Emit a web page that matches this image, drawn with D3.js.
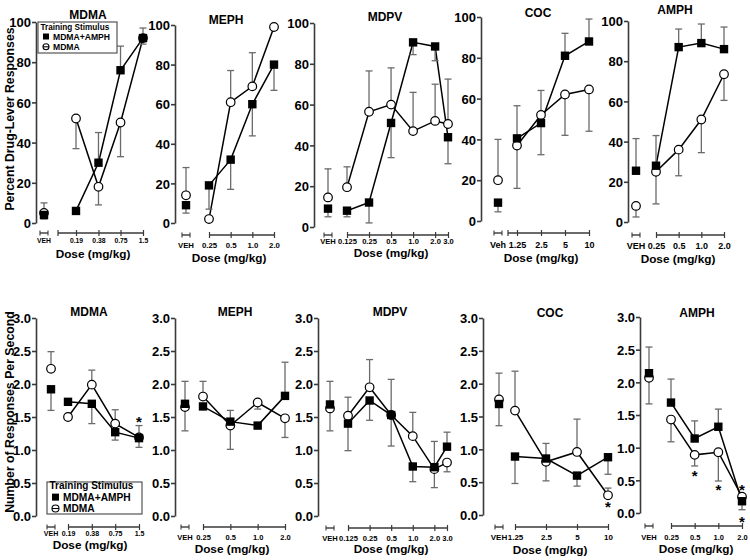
<!DOCTYPE html>
<html><head><meta charset="utf-8">
<script src="https://cdn.jsdelivr.net/npm/d3@7"></script>
<style>
body{margin:0;background:#fff}
svg{display:block;font-family:"Liberation Sans",Arial,sans-serif;font-weight:bold}
</style>
</head><body><svg id="c" width="750" height="560"></svg>
<script>
// ---------------- DATA ----------------
const drugs = ["MDMA", "MEPH", "MDPV", "COC", "AMPH"];
const seriesNames = ["MDMA+AMPH", "MDMA"];

const dosesMDMA = [0.19, 0.38, 0.75, 1.5];
const dosesMEPH = [0.25, 0.5, 1.0, 2.0];
const dosesMDPV = [0.125, 0.25, 0.5, 1.0, 2.0, 3.0];
const dosesCOC  = [1.25, 2.5, 5, 10];
const dosesAMPH = [0.25, 0.5, 1.0, 2.0];

const doseLabelsMDMA = ["0.19", "0.38", "0.75", "1.5"];
const doseLabelsMEPH = ["0.25", "0.5", "1.0", "2.0"];
const doseLabelsMDPV = ["0.125", "0.25", "0.5", "1.0", "2.0", "3.0"];
const doseLabelsCOC  = ["1.25", "2.5", "5", "10"];
const doseLabelsAMPH = ["0.25", "0.5", "1.0", "2.0"];

const vehLabelsTop    = ["VEH", "VEH", "VEH", "Veh", "VEH"];
const vehLabelsBottom = ["VEH", "VEH", "VEH", "VEH", "VEH"];

const pctTicks  = [0, 20, 40, 60, 80, 100];
const rateTicks = [0, 0.5, 1.0, 1.5, 2.0, 2.5, 3.0];

// Percent drug-lever responses (first value = vehicle). Err: signed one-sided SEM.
const pctComboMDMA = [4, 6, 30, 76, 92];      const pctComboErrMDMA = [-2, -1, 15, 12, 5];
const pctMdmaMDMA  = [5, 52, 18, 50, 92];     const pctMdmaErrMDMA  = [5, -15, -9, -17, -3];
const pctComboMEPH = [9, 19, 32, 60, 80];     const pctComboErrMEPH = [-4, -12, -15, -16, -13];
const pctMdmaMEPH  = [14, 2, 61, 69, 99];     const pctMdmaErrMEPH  = [14, 0, 16, 17, 0];
const pctComboMDPV = [9, 8, 12, 51, 90.5, 88.5, 44]; const pctComboErrMDPV = [-4, -3, -10, -17, -6, -7, -13];
const pctMdmaMDPV  = [14.5, 19.5, 56.5, 60, 47, 52, 50.5]; const pctMdmaErrMDPV = [14, 10, 20, 18, 19, 18, 22];
const pctComboCOC  = [9, 40.5, 48, 81, 88];   const pctComboErrCOC  = [-4.5, 16, -15.5, 11, 11];
const pctMdmaCOC   = [20, 37, 52, 62, 64.5];  const pctMdmaErrCOC   = [20, -21, 12, -20, -20.5];
const pctComboAMPH = [25.5, 28, 87, 89, 86];  const pctComboErrAMPH = [16, 15, 9, 9.5, 11];
const pctMdmaAMPH  = [8, 25, 36, 51, 73.5];   const pctMdmaErrAMPH  = [-5.5, -16, -13, -16.5, -13];

// Responses per second (first value = vehicle)
const rateComboMDMA = [1.92, 1.73, 1.70, 1.27, 1.18]; const rateComboErrMDMA = [-0.32, 0, -0.3, -0.12, -0.14];
const rateMdmaMDMA  = [2.23, 1.50, 1.99, 1.40, 1.19]; const rateMdmaErrMDMA  = [0.26, 0, 0.22, 0.21, 0.18];
const rateComboMEPH = [1.70, 1.66, 1.43, 1.37, 1.82]; const rateComboErrMEPH = [0.34, 0, 0.17, -0.04, 0.51];
const rateMdmaMEPH  = [1.65, 1.81, 1.37, 1.72, 1.48]; const rateMdmaErrMEPH  = [-0.36, 0.23, -0.36, -0.1, -0.29];
const rateComboMDPV = [1.69, 1.40, 1.75, 1.53, 0.75, 0.74, 1.05]; const rateComboErrMDPV = [0.35, -0.41, -0.3, 0.54, -0.23, 0.39, 0.22];
const rateMdmaMDPV  = [1.63, 1.52, 1.95, 1.53, 1.21, 0.71, 0.81]; const rateMdmaErrMDPV  = [-0.34, 0.28, 0.42, -0.47, 0.36, -0.28, -0.14];
const rateComboCOC  = [1.69, 0.89, 0.86, 0.60, 0.88]; const rateComboErrCOC  = [-0.33, -0.41, 0.23, -0.16, -0.26];
const rateMdmaCOC   = [1.76, 1.59, 0.81, 0.96, 0.30]; const rateMdmaErrCOC   = [0.40, 0.60, -0.29, 0.50, 0.11];
const rateComboAMPH = [2.14, 1.69, 1.14, 1.32, 0.18]; const rateComboErrAMPH = [0.40, 0.36, 0.27, 0.27, -0.13];
const rateMdmaAMPH  = [2.07, 1.43, 0.89, 0.93, 0.25]; const rateMdmaErrAMPH  = [-0.40, -0.34, -0.17, -0.44, 0.02];

// Significance asterisks (bottom row)
const starDrug = ["MDMA", "COC", "AMPH", "AMPH", "AMPH", "AMPH"];
const starDose = [1.5, 10, 0.5, 1.0, 2.0, 2.0];
const starRate = [1.47, 0.17, 0.62, 0.40, 0.40, -0.08];

// ---------------- LAYOUT ----------------
const topLayout = [
  {ax:36,  yMax:22, y0:223, veh:44,  d0:76,  d1:143, ls:58,  axisY:233, lblY:243, lblSize:6.8, titleX:88,  titleY:19, doseX:93,  doseY:257.5},
  {ax:175, yMax:25, y0:223, veh:186, d0:209, d1:274, ls:209, axisY:235, lblY:248, lblSize:7.8, titleX:226, titleY:24, doseX:229, doseY:262},
  {ax:314, yMax:23, y0:227, veh:328, d0:347, d1:448, ls:347, axisY:235, lblY:244, lblSize:7.6, titleX:385, titleY:21, doseX:391, doseY:257},
  {ax:481, yMax:17, y0:221, veh:498, d0:517, d1:589, ls:508, axisY:233, lblY:248, lblSize:9,   titleX:538, titleY:17, doseX:541, doseY:261.5},
  {ax:628, yMax:21, y0:222, veh:636, d0:656, d1:724, ls:656, axisY:235, lblY:249, lblSize:9,   titleX:675, titleY:14, doseX:678, doseY:262.5}
];
const bottomLayout = [
  {ax:36,  yMax:318, y0:516, veh:51,  d0:68,  d1:139, ls:68,  axisY:527, lblY:536, lblSize:7,   titleX:89,  titleY:316, doseX:90,  doseY:549},
  {ax:175, yMax:318, y0:516, veh:185, d0:203, d1:285, ls:203, axisY:527, lblY:540, lblSize:7.5, titleX:235, titleY:316, doseX:232, doseY:553},
  {ax:318, yMax:318, y0:516, veh:330, d0:348, d1:447, ls:348, axisY:528, lblY:541, lblSize:7.6, titleX:390, titleY:316, doseX:391, doseY:553},
  {ax:483, yMax:318, y0:515, veh:499, d0:515, d1:608, ls:515, axisY:527, lblY:540, lblSize:8,   titleX:550, titleY:317, doseX:550, doseY:554},
  {ax:640, yMax:317, y0:513, veh:649, d0:671, d1:742, ls:671, axisY:526, lblY:540, lblSize:7.5, titleX:697, titleY:317, doseX:696, doseY:553}
];

const ERR = "#6b6b6b", AXC = "#3a3a3a";
const svg = d3.select("#c");

const dosesBy = {MDMA:dosesMDMA, MEPH:dosesMEPH, MDPV:dosesMDPV, COC:dosesCOC, AMPH:dosesAMPH};
const labelsBy = {MDMA:doseLabelsMDMA, MEPH:doseLabelsMEPH, MDPV:doseLabelsMDPV, COC:doseLabelsCOC, AMPH:doseLabelsAMPH};
const pctBy = {
  MDMA:[pctComboMDMA,pctComboErrMDMA,pctMdmaMDMA,pctMdmaErrMDMA],
  MEPH:[pctComboMEPH,pctComboErrMEPH,pctMdmaMEPH,pctMdmaErrMEPH],
  MDPV:[pctComboMDPV,pctComboErrMDPV,pctMdmaMDPV,pctMdmaErrMDPV],
  COC:[pctComboCOC,pctComboErrCOC,pctMdmaCOC,pctMdmaErrCOC],
  AMPH:[pctComboAMPH,pctComboErrAMPH,pctMdmaAMPH,pctMdmaErrAMPH]
};
const rateBy = {
  MDMA:[rateComboMDMA,rateComboErrMDMA,rateMdmaMDMA,rateMdmaErrMDMA],
  MEPH:[rateComboMEPH,rateComboErrMEPH,rateMdmaMEPH,rateMdmaErrMEPH],
  MDPV:[rateComboMDPV,rateComboErrMDPV,rateMdmaMDPV,rateMdmaErrMDPV],
  COC:[rateComboCOC,rateComboErrCOC,rateMdmaCOC,rateMdmaErrCOC],
  AMPH:[rateComboAMPH,rateComboErrAMPH,rateMdmaAMPH,rateMdmaErrAMPH]
};

function panel(L, drug, vehLabel, series, yDomain, yTicks, yFmt) {
  const doses = dosesBy[drug], labels = labelsBy[drug];
  const g = svg.append("g");
  const y = d3.scaleLinear().domain(yDomain).range([L.y0, L.yMax]);
  const x = d3.scaleLog().domain([doses[0], doses[doses.length - 1]]).range([L.d0, L.d1]);
  const px = i => i === 0 ? L.veh : x(doses[i - 1]);

  // Y axis
  const ga = g.append("g").attr("transform", `translate(${L.ax},0)`)
    .call(d3.axisLeft(y).tickValues(yTicks).tickFormat(yFmt).tickSize(4).tickSizeOuter(0).tickPadding(1));
  ga.attr("font-family", null).attr("font-size", null);
  ga.select(".domain").attr("stroke", AXC).attr("stroke-width", 1.6);
  ga.selectAll(".tick line").attr("stroke", AXC).attr("stroke-width", 1.6);
  ga.selectAll(".tick text").attr("font-size", 13).attr("font-weight", "bold").attr("fill", "#000").attr("dy", "0.36em");

  // Dose axis
  const gx = g.append("g").attr("transform", `translate(0,${L.axisY})`)
    .call(d3.axisBottom(x).tickValues(doses).tickFormat((d, i) => labels[i]).tickSize(3).tickSizeOuter(0));
  gx.attr("font-family", null).attr("font-size", null);
  gx.select(".domain").remove();
  gx.append("line").attr("x1", L.ls).attr("x2", L.d1).attr("stroke", AXC).attr("stroke-width", 1.4);
  gx.selectAll(".tick line").attr("y1", -3).attr("y2", 3).attr("stroke", AXC).attr("stroke-width", 1.2);
  if (L.ls < L.d0) {
    gx.append("line").attr("x1", L.ls).attr("x2", L.ls).attr("y1", -3).attr("y2", 3).attr("stroke", AXC).attr("stroke-width", 1.2);
  }
  gx.selectAll(".tick text").attr("y", L.lblY - L.axisY).attr("dy", 0)
    .attr("font-size", L.lblSize).attr("font-weight", "bold").attr("fill", "#000");
  // vehicle mini-axis
  gx.append("line").attr("x1", L.veh - 4).attr("x2", L.veh + 4).attr("stroke", AXC).attr("stroke-width", 1.4);
  [L.veh - 4, L.veh + 4].forEach(v => gx.append("line").attr("x1", v).attr("x2", v).attr("y1", -2.5).attr("y2", 2.5)
    .attr("stroke", AXC).attr("stroke-width", 1.1));
  gx.append("text").attr("x", L.veh).attr("y", L.lblY - L.axisY).attr("text-anchor", "middle")
    .attr("fill", "#000").attr("font-size", L.lblSize).attr("font-weight", "bold").text(vehLabel);

  // Titles
  g.append("text").attr("x", L.titleX).attr("y", L.titleY).attr("text-anchor", "middle")
    .attr("font-size", 12).text(drug);
  g.append("text").attr("x", L.doseX).attr("y", L.doseY).attr("text-anchor", "middle")
    .attr("font-size", 11.8).text("Dose (mg/kg)");

  const [combo, comboErr, mdma, mdmaErr] = series;
  const sets = [{v: mdma, e: mdmaErr, shape: "circle"}, {v: combo, e: comboErr, shape: "square"}];

  // connecting lines (doses only)
  const line = d3.line().x(d => d[0]).y(d => d[1]);
  sets.forEach(s => {
    const pts = s.v.slice(1).map((v, i) => [px(i + 1), y(v)]);
    g.append("path").attr("d", line(pts)).attr("fill", "none").attr("stroke", "#000").attr("stroke-width", 1.5);
  });
  // error bars
  sets.forEach(s => {
    s.v.forEach((v, i) => {
      const e = s.e[i];
      if (!e) return;
      const xx = px(i), y1 = y(v), y2 = y(v + e);
      g.append("line").attr("x1", xx).attr("x2", xx).attr("y1", y1).attr("y2", y2).attr("stroke", ERR).attr("stroke-width", 1.3);
      g.append("line").attr("x1", xx - 3.5).attr("x2", xx + 3.5).attr("y1", y2).attr("y2", y2).attr("stroke", ERR).attr("stroke-width", 1.3);
    });
  });
  // markers
  sets.forEach(s => {
    s.v.forEach((v, i) => {
      if (s.shape === "circle") {
        g.append("circle").attr("cx", px(i)).attr("cy", y(v)).attr("r", 4.3)
          .attr("fill", "#fff").attr("stroke", "#000").attr("stroke-width", 1.2);
      } else {
        g.append("rect").attr("x", px(i) - 4.2).attr("y", y(v) - 4.2).attr("width", 8.4).attr("height", 8.4).attr("fill", "#000");
      }
    });
  });
  return {x, y, g};
}

const tops = drugs.map((d, k) => panel(topLayout[k], d, vehLabelsTop[k], pctBy[d], [0, 100], pctTicks, d3.format("d")));
const bots = drugs.map((d, k) => panel(bottomLayout[k], d, vehLabelsBottom[k], rateBy[d], [0, 3], rateTicks, d3.format(".1f")));

// asterisks
starDrug.forEach((d, i) => {
  const k = drugs.indexOf(d);
  const p = bots[k];
  p.g.append("text").attr("x", p.x(starDose[i])).attr("y", p.y(starRate[i]) + 8.5)
    .attr("text-anchor", "middle").attr("font-size", 15).text("*");
});

// y axis titles
svg.append("text").attr("transform", "translate(14,119) rotate(-90)").attr("text-anchor", "middle")
  .attr("font-size", 12.3).text("Percent Drug-Lever Responses");
svg.append("text").attr("transform", "translate(14,412) rotate(-90)").attr("text-anchor", "middle")
  .attr("font-size", 12.3).text("Number of Responses Per Second");

// legends
function legend(x0, y0, w, h, titleSize, itemSize, rowY, mk) {
  const g = svg.append("g");
  g.append("rect").attr("x", x0).attr("y", y0).attr("width", w).attr("height", h)
    .attr("fill", "#fff").attr("stroke", "#555").attr("stroke-width", 1.2);
  g.append("text").attr("x", x0 + 2.5).attr("y", rowY[0]).attr("font-size", titleSize).text("Training Stimulus");
  const cx = x0 + 5 + mk / 2;
  g.append("rect").attr("x", cx - mk / 2).attr("y", rowY[1] - itemSize * 0.36 - mk / 2).attr("width", mk).attr("height", mk).attr("fill", "#000");
  g.append("text").attr("x", cx + mk / 2 + 4).attr("y", rowY[1]).attr("font-size", itemSize).text(seriesNames[0]);
  const ccy = rowY[2] - itemSize * 0.36;
  g.append("circle").attr("cx", cx).attr("cy", ccy).attr("r", mk / 2).attr("fill", "#fff").attr("stroke", "#000").attr("stroke-width", 1.1);
  g.append("line").attr("x1", cx - mk / 2).attr("x2", cx + mk / 2).attr("y1", ccy).attr("y2", ccy).attr("stroke", "#000").attr("stroke-width", 1.1);
  g.append("text").attr("x", cx + mk / 2 + 4).attr("y", rowY[2]).attr("font-size", itemSize).text(seriesNames[1]);
}
legend(38, 22, 79, 31, 8.2, 8.6, [29.5, 39.6, 49.9], 6);
legend(47, 482, 95, 32, 10, 10.2, [489, 500.8, 512.2], 7);
</script></body></html>
